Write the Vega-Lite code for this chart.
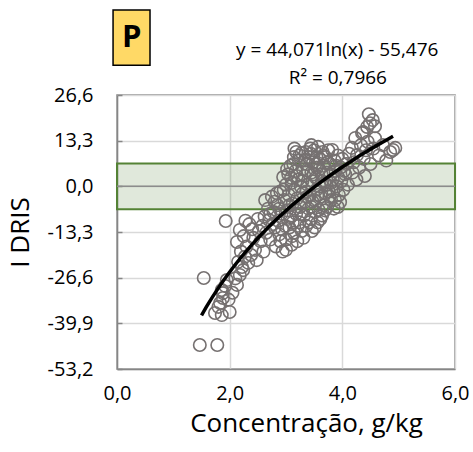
{
  "$schema": "https://vega.github.io/schema/vega-lite/v6.json",
  "width": 338,
  "height": 274,
  "autosize": {"type": "none"},
  "padding": {"left": 117, "top": 95, "right": 18, "bottom": 83},
  "background": "white",
  "config": {
    "font": "Open Sans",
    "view": {"stroke": "#868686", "strokeWidth": 1.5}
  },
  "datasets": {
    "pts": [
      {"conc":1.47,"idris":-46.2},{"conc":1.78,"idris":-46.2},{"conc":1.54,"idris":-26.7},{"conc":1.93,"idris":-10.1},
      {"conc":1.74,"idris":-36.9},{"conc":1.86,"idris":-37.5},{"conc":2.0,"idris":-36.6},{"conc":1.8,"idris":-35.1},{"conc":1.83,"idris":-34.0},{"conc":1.88,"idris":-32.5},{"conc":1.88,"idris":-31.1},{"conc":1.86,"idris":-30.2},{"conc":1.95,"idris":-27.3},{"conc":2.13,"idris":-28.7},{"conc":2.18,"idris":-25.8},{"conc":2.24,"idris":-24.4},{"conc":2.33,"idris":-22.3},{"conc":2.22,"idris":-23.5},{"conc":2.1,"idris":-26.8},{"conc":1.92,"idris":-29.0},{"conc":1.98,"idris":-33.0},{"conc":2.05,"idris":-31.0},{"conc":2.15,"idris":-22.0},{"conc":2.27,"idris":-20.5},{"conc":2.2,"idris":-19.0},
      {"conc":2.13,"idris":-16.2},{"conc":2.18,"idris":-12.7},{"conc":2.25,"idris":-14.5},{"conc":2.3,"idris":-17.5},{"conc":2.35,"idris":-11.0},{"conc":2.4,"idris":-12.5},{"conc":2.42,"idris":-15.0},{"conc":2.45,"idris":-18.5},{"conc":2.5,"idris":-9.5},{"conc":2.52,"idris":-13.0},{"conc":2.55,"idris":-16.0},{"conc":2.58,"idris":-11.5},{"conc":2.38,"idris":-20.0},{"conc":2.48,"idris":-21.5},{"conc":2.6,"idris":-19.0},{"conc":2.28,"idris":-10.0},{"conc":2.62,"idris":-8.8},{"conc":2.65,"idris":-13.5},
      {"conc":2.63,"idris":-4.0},{"conc":2.68,"idris":-6.5},{"conc":2.7,"idris":-9.8},{"conc":2.72,"idris":-15.5},{"conc":2.75,"idris":-3.0},{"conc":2.78,"idris":-7.5},{"conc":2.8,"idris":-12.0},{"conc":2.82,"idris":-17.5},{"conc":2.85,"idris":-5.5},{"conc":2.86,"idris":-10.0},{"conc":2.88,"idris":-14.0},{"conc":2.9,"idris":-1.5},{"conc":2.92,"idris":-8.0},{"conc":2.94,"idris":-19.0},{"conc":2.95,"idris":2.7},{"conc":2.76,"idris":-11.0},{"conc":2.84,"idris":-2.0},{"conc":2.9,"idris":-16.0},
      {"conc":2.97,"idris":-4.0},{"conc":2.98,"idris":-11.5},{"conc":3.0,"idris":0.5},{"conc":3.0,"idris":-15.5},{"conc":3.02,"idris":-7.0},{"conc":3.04,"idris":3.5},{"conc":3.05,"idris":-2.5},{"conc":3.06,"idris":-12.0},{"conc":3.08,"idris":6.0},{"conc":3.08,"idris":-9.0},{"conc":3.1,"idris":-17.0},{"conc":3.1,"idris":1.0},{"conc":3.12,"idris":-5.0},{"conc":3.14,"idris":8.5},{"conc":3.14,"idris":-13.5},{"conc":3.15,"idris":-1.0},{"conc":3.17,"idris":4.5},{"conc":3.18,"idris":-8.0},{"conc":3.2,"idris":-3.5},{"conc":3.2,"idris":-16.0},{"conc":3.22,"idris":2.0},{"conc":3.23,"idris":7.5},{"conc":3.24,"idris":-10.5},{"conc":3.25,"idris":-6.0},{"conc":3.26,"idris":0.0},{"conc":3.28,"idris":9.7},{"conc":3.28,"idris":-13.0},{"conc":3.3,"idris":5.0},{"conc":3.3,"idris":-2.0},{"conc":3.12,"idris":-10.5},{"conc":3.03,"idris":-9.5},{"conc":3.18,"idris":10.0},
      {"conc":3.32,"idris":-8.5},{"conc":3.33,"idris":3.0},{"conc":3.34,"idris":-4.5},{"conc":3.35,"idris":10.0},{"conc":3.36,"idris":-11.5},{"conc":3.37,"idris":6.5},{"conc":3.38,"idris":0.5},{"conc":3.4,"idris":-6.5},{"conc":3.4,"idris":8.5},{"conc":3.42,"idris":-2.5},{"conc":3.43,"idris":11.0},{"conc":3.44,"idris":-9.5},{"conc":3.45,"idris":4.0},{"conc":3.46,"idris":-13.0},{"conc":3.47,"idris":1.5},{"conc":3.48,"idris":7.0},{"conc":3.5,"idris":-4.0},{"conc":3.5,"idris":10.5},{"conc":3.52,"idris":-7.5},{"conc":3.53,"idris":2.5},{"conc":3.54,"idris":-1.0},{"conc":3.55,"idris":5.5},{"conc":3.56,"idris":-10.5},{"conc":3.57,"idris":11.5},{"conc":3.58,"idris":-6.9},{"conc":3.6,"idris":0.0},{"conc":3.6,"idris":8.0},{"conc":3.62,"idris":-3.0},{"conc":3.63,"idris":3.5},{"conc":3.64,"idris":-8.5},{"conc":3.65,"idris":10.0},{"conc":3.66,"idris":6.0},{"conc":3.67,"idris":-5.5},{"conc":3.68,"idris":1.0},{"conc":3.7,"idris":-2.0},{"conc":3.7,"idris":8.5},{"conc":3.38,"idris":-3.0},{"conc":3.52,"idris":6.5},{"conc":3.45,"idris":-6.0},
      {"conc":3.72,"idris":4.0},{"conc":3.73,"idris":-6.0},{"conc":3.75,"idris":10.5},{"conc":3.76,"idris":-1.5},{"conc":3.78,"idris":6.5},{"conc":3.8,"idris":-4.0},{"conc":3.82,"idris":10.6},{"conc":3.83,"idris":2.0},{"conc":3.85,"idris":-6.5},{"conc":3.86,"idris":7.5},{"conc":3.87,"idris":-4.0},{"conc":3.88,"idris":4.5},{"conc":3.9,"idris":0.0},{"conc":3.92,"idris":9.0},{"conc":3.94,"idris":-2.5},{"conc":3.96,"idris":-4.6},{"conc":3.97,"idris":5.5},{"conc":3.98,"idris":1.5},{"conc":4.0,"idris":8.0},{"conc":4.02,"idris":-1.0},{"conc":4.05,"idris":3.5},{"conc":4.07,"idris":6.5},{"conc":4.1,"idris":0.5},{"conc":4.12,"idris":9.5},{"conc":3.8,"idris":1.0},{"conc":3.92,"idris":-6.0},
      {"conc":4.17,"idris":11.2},{"conc":4.18,"idris":4.0},{"conc":4.2,"idris":7.0},{"conc":4.23,"idris":14.1},{"conc":4.25,"idris":2.0},{"conc":4.26,"idris":9.1},{"conc":4.3,"idris":5.5},{"conc":4.33,"idris":12.0},{"conc":4.35,"idris":15.5},{"conc":4.37,"idris":15.8},{"conc":4.38,"idris":8.0},{"conc":4.4,"idris":3.0},{"conc":4.42,"idris":10.5},{"conc":4.44,"idris":17.3},{"conc":4.45,"idris":13.0},{"conc":4.49,"idris":18.4},{"conc":4.5,"idris":6.5},{"conc":4.54,"idris":19.3},{"conc":4.55,"idris":11.0},{"conc":4.58,"idris":14.0},{"conc":4.47,"idris":21.0},{"conc":4.58,"idris":17.5},
      {"conc":4.65,"idris":9.0},{"conc":4.72,"idris":12.0},{"conc":4.78,"idris":7.5},{"conc":4.85,"idris":10.0},{"conc":4.9,"idris":10.6},{"conc":4.94,"idris":11.2},
      {"conc":3.02,"idris":5.0},{"conc":3.06,"idris":-5.5},{"conc":3.09,"idris":2.5},{"conc":3.11,"idris":-14.5},{"conc":3.13,"idris":6.5},{"conc":3.16,"idris":-6.5},{"conc":3.19,"idris":3.0},{"conc":3.21,"idris":-11.5},{"conc":3.24,"idris":9.0},{"conc":3.27,"idris":-8.0},{"conc":3.29,"idris":1.5},{"conc":3.31,"idris":-15.0},{"conc":3.34,"idris":7.5},{"conc":3.36,"idris":-1.5},{"conc":3.39,"idris":4.5},{"conc":3.41,"idris":-10.5},{"conc":3.44,"idris":9.5},{"conc":3.47,"idris":-4.5},{"conc":3.49,"idris":3.5},{"conc":3.51,"idris":-12.0},{"conc":3.54,"idris":8.5},{"conc":3.57,"idris":-2.5},{"conc":3.59,"idris":5.0},{"conc":3.61,"idris":-9.5},{"conc":3.64,"idris":1.5},{"conc":3.67,"idris":9.0},{"conc":3.69,"idris":-7.0},{"conc":3.72,"idris":0.5},{"conc":3.74,"idris":7.0},{"conc":3.77,"idris":-3.0},{"conc":3.79,"idris":3.5},{"conc":3.84,"idris":-1.5},{"conc":3.89,"idris":6.0},{"conc":3.93,"idris":2.5},{"conc":4.03,"idris":4.5},{"conc":2.88,"idris":-6.5},{"conc":2.93,"idris":-12.5},{"conc":2.96,"idris":-1.0},{"conc":2.8,"idris":-4.5},{"conc":2.72,"idris":-8.0},{"conc":3.15,"idris":11.0},{"conc":3.45,"idris":12.0},{"conc":3.0,"idris":-18.5}
    ],
    "trend": [
      {"conc":1.5,"idris":-37.61},{"conc":1.6,"idris":-34.76},{"conc":1.8,"idris":-29.57},{"conc":2.0,"idris":-24.93},{"conc":2.2,"idris":-20.73},{"conc":2.4,"idris":-16.89},{"conc":2.6,"idris":-13.37},{"conc":2.8,"idris":-10.1},{"conc":3.0,"idris":-7.06},{"conc":3.2,"idris":-4.21},{"conc":3.4,"idris":-1.54},{"conc":3.6,"idris":0.98},{"conc":3.8,"idris":3.36},{"conc":4.0,"idris":5.62},{"conc":4.2,"idris":7.77},{"conc":4.4,"idris":9.82},{"conc":4.6,"idris":11.78},{"conc":4.8,"idris":13.65},{"conc":4.9,"idris":14.56}
    ],
    "notes": [
      {"conc":3.91,"idris":39.7,"t":"y = 44,071ln(x) - 55,476"},
      {"conc":3.92,"idris":31.55,"t":"R² = 0,7966"}
    ],
    "one": [{"tag": "P"}]
  },
  "layer": [
    {
      "data": {"name": "one"},
      "mark": {"type": "rect", "fill": "#548235", "fillOpacity": 0.18, "stroke": "#548235", "strokeWidth": 2},
      "encoding": {
        "x": {"datum": 0, "type": "quantitative", "scale": {"domain": [0, 6], "nice": false, "zero": false},
          "axis": {"values": [0, 2, 4, 6], "labelExpr": "replace(format(datum.value, '.1f'), '.', ',')", "labelFlush": false, "grid": true, "gridColor": "#d9d9d9", "gridWidth": 1.5, "ticks": false, "domainColor": "#868686", "domainWidth": 1.5, "labelFontSize": 20, "labelColor": "black", "labelPadding": 14, "title": "Concentração, g/kg", "titleFontSize": 26, "titleFontWeight": "normal", "titleColor": "black", "titlePadding": 7, "titleX": 189}},
        "x2": {"datum": 6},
        "y": {"datum": -6.65, "type": "quantitative", "scale": {"domain": [-53.2, 26.6], "nice": false, "zero": false},
          "axis": {"values": [-53.2, -46.55, -39.9, -33.25, -26.6, -19.95, -13.3, -6.65, 0, 6.65, 13.3, 19.95, 26.6],
            "labelExpr": "abs(datum.value/13.3 - round(datum.value/13.3)) < 0.01 ? (datum.value < -0.001 ? '-' : '') + replace(format(abs(datum.value), '.1f'), '.', ',') : ''",
            "grid": true, "gridColor": "#d9d9d9", "gridWidth": 1.5,
            "gridOpacity": {"condition": {"test": "abs(datum.value/13.3 - round(datum.value/13.3)) < 0.01", "value": 1}, "value": 0},
            "tickSize": -5, "tickColor": "#868686", "tickWidth": 1.5, "domainColor": "#868686", "domainWidth": 1.5,
            "labelFontSize": 20, "labelColor": "black", "labelPadding": 29,
            "title": "I DRIS", "titleFontSize": 26, "titleFontWeight": "normal", "titleColor": "black", "titlePadding": 14}},
        "y2": {"datum": 6.65}
      }
    },
    {
      "data": {"name": "one"},
      "mark": {"type": "rule", "color": "#8c8c8c", "strokeWidth": 1.5},
      "encoding": {"y": {"datum": 0, "type": "quantitative", "scale": {"domain": [-53.2, 26.6], "nice": false, "zero": false}}}
    },
    {
      "data": {"name": "pts"},
      "mark": {"type": "point", "shape": "circle", "filled": false, "stroke": "#767171", "strokeWidth": 1.6, "size": 155, "opacity": 1},
      "encoding": {
        "x": {"field": "conc", "type": "quantitative", "scale": {"domain": [0, 6], "nice": false, "zero": false}},
        "y": {"field": "idris", "type": "quantitative", "scale": {"domain": [-53.2, 26.6], "nice": false, "zero": false}}
      }
    },
    {
      "data": {"name": "trend"},
      "mark": {"type": "line", "color": "black", "strokeWidth": 3.5, "interpolate": "monotone"},
      "encoding": {
        "x": {"field": "conc", "type": "quantitative", "scale": {"domain": [0, 6], "nice": false, "zero": false}},
        "y": {"field": "idris", "type": "quantitative", "scale": {"domain": [-53.2, 26.6], "nice": false, "zero": false}}
      }
    },
    {
      "data": {"name": "notes"},
      "mark": {"type": "text", "fontSize": 19, "color": "black", "align": "center", "baseline": "middle"},
      "encoding": {
        "x": {"field": "conc", "type": "quantitative", "scale": {"domain": [0, 6], "nice": false, "zero": false}},
        "y": {"field": "idris", "type": "quantitative", "scale": {"domain": [-53.2, 26.6], "nice": false, "zero": false}},
        "text": {"field": "t"}
      }
    },
    {
      "data": {"name": "one"},
      "mark": {"type": "rect", "fill": "#FFD966", "stroke": "black", "strokeWidth": 1.5},
      "encoding": {
        "x": {"datum": -0.07, "type": "quantitative", "scale": {"domain": [0, 6], "nice": false, "zero": false}},
        "x2": {"datum": 0.586},
        "y": {"datum": 35.3, "type": "quantitative", "scale": {"domain": [-53.2, 26.6], "nice": false, "zero": false}},
        "y2": {"datum": 51.35}
      }
    },
    {
      "data": {"name": "one"},
      "mark": {"type": "text", "fontSize": 31, "fontWeight": "bold", "color": "black", "align": "center", "baseline": "middle"},
      "encoding": {
        "x": {"datum": 0.26, "type": "quantitative", "scale": {"domain": [0, 6], "nice": false, "zero": false}},
        "y": {"datum": 43.3, "type": "quantitative", "scale": {"domain": [-53.2, 26.6], "nice": false, "zero": false}},
        "text": {"field": "tag"}
      }
    }
  ]
}
